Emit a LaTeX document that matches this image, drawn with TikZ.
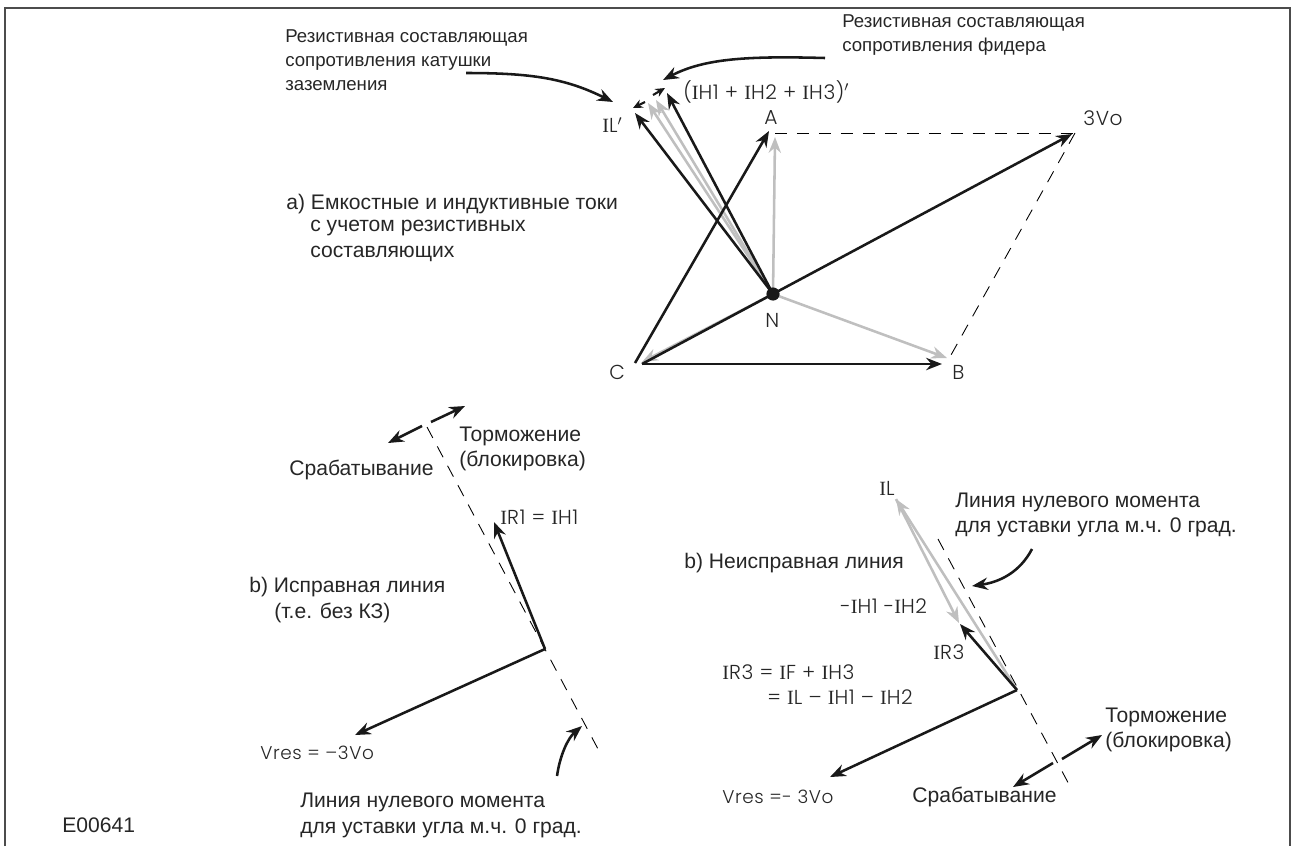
\documentclass[tikz,border=0pt]{standalone}
\usepackage{fontspec}
\setmainfont{Liberation Sans}
\newfontfamily\labelfont[LetterSpace=3]{Poppins Light}
\newfontfamily\serifI{Liberation Serif}
\newcommand{\sI}{{\serifI I}}
\usetikzlibrary{arrows.meta}

\begin{document}
\begin{tikzpicture}[x=0.02cm,y=-0.02cm,>={Stealth[length=9pt,width=7pt]},
  black vec/.style={->,line width=1.45pt,color=black!90},
  grey vec/.style={->,line width=1.45pt,color=black!25},
  small vec/.style={->,line width=1.2pt,color=black!90,>={Stealth[length=5.5pt,width=5pt]}},
  zero line/.style={line width=0.5pt,dash pattern=on 7pt off 5.5pt},
  main text/.style={anchor=west,inner sep=0pt,align=left,font=\fontsize{12}{14.7}\selectfont,text=black!85},
  small text/.style={anchor=west,inner sep=0pt,align=left,font=\fontsize{10.6}{13.6}\selectfont,text=black!85},
  vec label/.style={anchor=west,inner sep=0pt,font=\labelfont\fontsize{11.5}{13}\selectfont,text=black!85},
  res label/.style={vec label,font=\labelfont\fontsize{10.5}{13}\selectfont}]
\useasboundingbox (0,0) rectangle (1293,846);
\draw[line width=0.9pt,draw=black!70] (5,846) -- (5,8) -- (1290,8) -- (1290,846);

% a) vector star
\coordinate (N) at (773,294);
\coordinate (A) at (775,137);
\coordinate (AD) at (775,133);
\coordinate (AT) at (769,131);
\coordinate (V) at (1072,134);
\coordinate (VD) at (1075,133);
\coordinate (VE) at (951,355);
\coordinate (B) at (942,364);
\coordinate (BG) at (947,358);
\coordinate (C) at (642,364);
\coordinate (CG) at (642,362);
\coordinate (CA) at (635,363);
\coordinate (G1) at (648,103);
\coordinate (G2) at (656,100);
\coordinate (L1) at (635,113);
\coordinate (H1) at (667,93);
\path[zero line] (AD) edge (VD) (VD) edge (VE);
\path[grey vec] (N) edge (A) edge (BG) edge (CG) edge (G1) edge (G2);
\path[black vec] (N) edge (L1) edge (H1) (C) edge (V) edge (B) (CA) edge (AT);
\node[circle,fill=black!90,inner sep=0pt,minimum size=7.5pt] (Nd) at (N) {};
\coordinate (S1) at (645,102);
\coordinate (S2) at (633,108);
\coordinate (S3) at (653,95);
\coordinate (S4) at (665,88);
\path[small vec] (S1) edge (S2) (S3) edge (S4);

\node[small text] (res1) at (285,60) {Резистивная составляющая\\сопротивления катушки\\заземления};
\node[small text] (res2) at (842,35) {Резистивная составляющая\\сопротивления фидера};
\coordinate (c1) at (466,73);
\coordinate (c2) at (613,102);
\coordinate (c3) at (825,58);
\coordinate (c4) at (663,80);
\draw[black vec] (c1) .. controls (530,73) and (565,78) .. (c2);
\draw[black vec] (c3) .. controls (750,56) and (705,58) .. (c4);

\node[vec label] (lIL) at (602,125) {\sI L$'$};
\node[vec label] (lIH) at (683,92) {(\sI H1 + \sI H2 + \sI H3)$'$};
\node[vec label] (lA) at (764,118) {A};
\node[vec label] (l3V) at (1083,118) {3Vo};
\node[vec label] (lN) at (765,320) {N};
\node[vec label] (lC) at (609,372) {C};
\node[vec label] (lB) at (952,372) {B};
\node[main text] (ta1) at (286,204) {a) Емкостные и индуктивные токи};
\node[main text] (ta2) at (310,241) {с учетом резистивных\\составляющих};

% b) healthy line
\coordinate (O1) at (545,649);
\coordinate (T1) at (427,427);
\coordinate (T2) at (598,749);
\coordinate (R1) at (494,522);
\coordinate (W1) at (355,735);
\draw[zero line] (T1) -- (T2);
\path[black vec] (O1) edge (R1) edge (W1);
\coordinate (d1) at (422,426);
\coordinate (d2) at (388,443);
\coordinate (d3) at (431,422);
\coordinate (d4) at (465,406);
\path[black vec] (d1) edge (d2) (d3) edge (d4);
\coordinate (c5) at (557,776);
\coordinate (c6) at (582,726);
\draw[black vec] (c5) .. controls (560,755) and (568,738) .. (c6);

\node[main text] (srab1) at (289,470) {Срабатывание};
\node[main text] (torm1) at (459,449) {Торможение\\(блокировка)};
\node[vec label] (lR1) at (500,517) {\sI R1 = \sI H1};
\node[main text] (tb1) at (249,587) {b) Исправная линия};
\node[main text] (tb2) at (274,613) {(т.е. без КЗ)};
\node[res label] (lV1) at (260,753) {Vres = –3Vo};
\node[main text] (zero1) at (300,815) {Линия нулевого момента\\для уставки угла м.ч. 0 град.};
\node[main text] (E) at (62,825) {E00641};

% b) faulted line
\coordinate (O2) at (1017,690);
\coordinate (T3) at (938,539);
\coordinate (T4) at (1072,790);
\coordinate (L) at (896,499);
\coordinate (H) at (959,623);
\coordinate (R3) at (960,624);
\coordinate (W2) at (830,777);
\draw[zero line] (T3) -- (T4);
\path[grey vec] (O2) edge (L) (L) edge (H);
\path[black vec] (O2) edge (R3) edge (W2);
\coordinate (d5) at (1062,759);
\coordinate (d6) at (1102,735);
\coordinate (d7) at (1053,763);
\coordinate (d8) at (1013,787);
\path[black vec] (d5) edge (d6) (d7) edge (d8);
\coordinate (c7) at (1032,549);
\coordinate (c8) at (972,586);
\draw[black vec] (c7) .. controls (1020,572) and (1000,582) .. (c8);

\node[vec label] (lIL2) at (879,488) {\sI L};
\node[main text] (zero2) at (955,515) {Линия нулевого момента\\для уставки угла м.ч. 0 град.};
\node[main text] (tc1) at (684,563) {b) Неисправная линия};
\node[vec label] (lH) at (840,606) {-\sI H1 -\sI H2};
\node[vec label] (lR3) at (933,652) {\sI R3};
\node[vec label] (lF1) at (722,672) {\sI R3 = \sI F + \sI H3};
\node[vec label] (lF2) at (767,697) {= \sI L – \sI H1 – \sI H2};
\node[res label] (lV2) at (722,797) {Vres =- 3Vo};
\node[main text] (srab2) at (912,797) {Срабатывание};
\node[main text] (torm2) at (1105,730) {Торможение\\(блокировка)};
\end{tikzpicture}
\end{document}
